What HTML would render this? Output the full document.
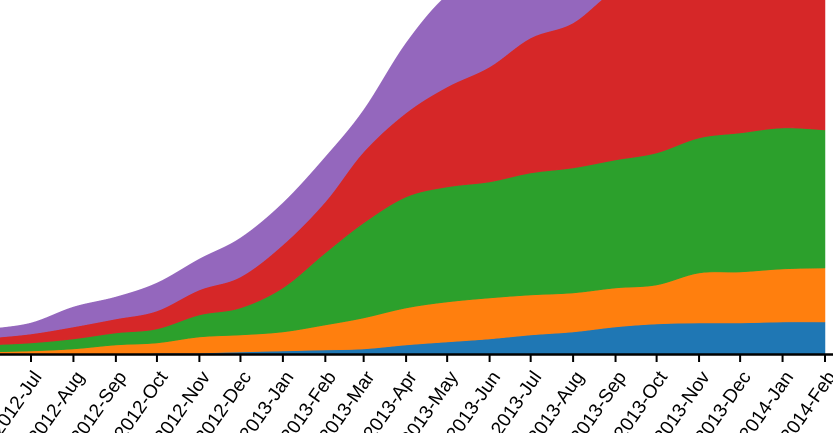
<!DOCTYPE html>
<html><head><meta charset="utf-8"><style>
html,body{margin:0;padding:0;background:#fff;overflow:hidden}
svg{display:block}
text{font-family:"Liberation Sans",Arial,sans-serif;font-size:19px;fill:#000}
</style></head><body>
<svg id="chart" width="833" height="433">
<g id="areas"></g>
<g id="axis"></g>
</svg>
<script>
const months = ["2012-06","2012-07","2012-08","2012-09","2012-10","2012-11","2012-12","2013-01","2013-02","2013-03","2013-04","2013-05","2013-06","2013-07","2013-08","2013-09","2013-10","2013-11","2013-12","2014-01","2014-02"];
const seriesBlue   = [0,0,0,0,10,10,20,30,40,50,90,120,150,190,220,270,300,310,310,320,320];
const seriesOrange = [20,30,50,90,100,160,170,190,250,310,370,400,410,400,390,390,390,500,510,530,540];
const seriesGreen  = [70,80,100,120,140,220,270,440,720,950,1110,1150,1160,1220,1250,1280,1320,1350,1390,1410,1380];
const seriesRed    = [70,90,120,140,180,250,310,430,510,710,840,1000,1150,1350,1450,1700,1730,1730,1780,1830,1900];
const seriesPurple = [90,110,200,220,280,310,390,420,450,420,700,920,970,930,980,1000,1100,1150,1150,1150,1150];
const tickLabels = ["2012-Jul","2012-Aug","2012-Sep","2012-Oct","2012-Nov","2012-Dec","2013-Jan","2013-Feb","2013-Mar","2013-Apr","2013-May","2013-Jun","2013-Jul","2013-Aug","2013-Sep","2013-Oct","2013-Nov","2013-Dec","2014-Jan","2014-Feb"];
const tickDates = ["2012-07","2012-08","2012-09","2012-10","2012-11","2012-12","2013-01","2013-02","2013-03","2013-04","2013-05","2013-06","2013-07","2013-08","2013-09","2013-10","2013-11","2013-12","2014-01","2014-02"];

const NS="http://www.w3.org/2000/svg";
const t0=Date.UTC(2012,6,1), t1=Date.UTC(2014,1,1);
function toT(s){const p=s.split("-");return Date.UTC(+p[0],+p[1]-1,1);}
function xScale(s){return 31+(toT(s)-t0)/(t1-t0)*(825-31);}
function yScale(v){return 354-v/10;}

const series=[["blue",seriesBlue,"#1f77b4"],["orange",seriesOrange,"#ff7f0e"],["green",seriesGreen,"#2ca02c"],["red",seriesRed,"#d62728"],["purple",seriesPurple,"#9467bd"]];
const base=months.map(()=>0);
function curve(pts){
  let d="M"+pts[0][0]+","+pts[0][1];
  for(let i=0;i<pts.length-1;i++){
    const p0=pts[Math.max(0,i-1)],p1=pts[i],p2=pts[i+1],p3=pts[Math.min(pts.length-1,i+2)];
    const c1x=p1[0]+(p2[0]-p0[0])/6,c1y=p1[1]+(p2[1]-p0[1])/6;
    const c2x=p2[0]-(p3[0]-p1[0])/6,c2y=p2[1]-(p3[1]-p1[1])/6;
    d+="C"+c1x+","+c1y+" "+c2x+","+c2y+" "+p2[0]+","+p2[1];
  }
  return d;
}
const ga=document.getElementById("areas");
series.forEach(([name,vals,color])=>{
  const lower=months.map((m,i)=>[xScale(m),yScale(base[i])]);
  months.forEach((m,i)=>{base[i]+=vals[i];});
  const upper=months.map((m,i)=>[xScale(m),yScale(base[i])]);
  const lowRev=lower.slice().reverse();
  let d=curve(upper)+"L"+lowRev[0][0]+","+lowRev[0][1]+curve(lowRev).slice(1).replace(/^[^C]*/,"")+"Z";
  const p=document.createElementNS(NS,"path");
  p.setAttribute("d",d);
  p.setAttribute("fill",color);
  p.setAttribute("stroke",color);
  p.setAttribute("stroke-width","0.5");
  
  
  ga.appendChild(p);
});
const ax=document.getElementById("axis");
const line=document.createElementNS(NS,"line");
line.setAttribute("x1",0);line.setAttribute("x2",833);line.setAttribute("y1",354.5);line.setAttribute("y2",354.5);
line.setAttribute("stroke","#000");line.setAttribute("stroke-width","2.5");


ax.appendChild(line);
tickDates.forEach((td,i)=>{
  const x=xScale(td);
  const tk=document.createElementNS(NS,"line");
  tk.setAttribute("x1",x);tk.setAttribute("x2",x);tk.setAttribute("y1",354);tk.setAttribute("y2",362);
  tk.setAttribute("stroke","#000");tk.setAttribute("stroke-width","2");
  
  
  ax.appendChild(tk);
  const tx=document.createElementNS(NS,"text");
  tx.setAttribute("transform","translate("+(x+6)+",373) rotate(-55)");
  tx.setAttribute("text-anchor","end");
  tx.setAttribute("dy","0.35em");
  tx.textContent=tickLabels[i];
  
  
  ax.appendChild(tx);
});
</script>
</body></html>
